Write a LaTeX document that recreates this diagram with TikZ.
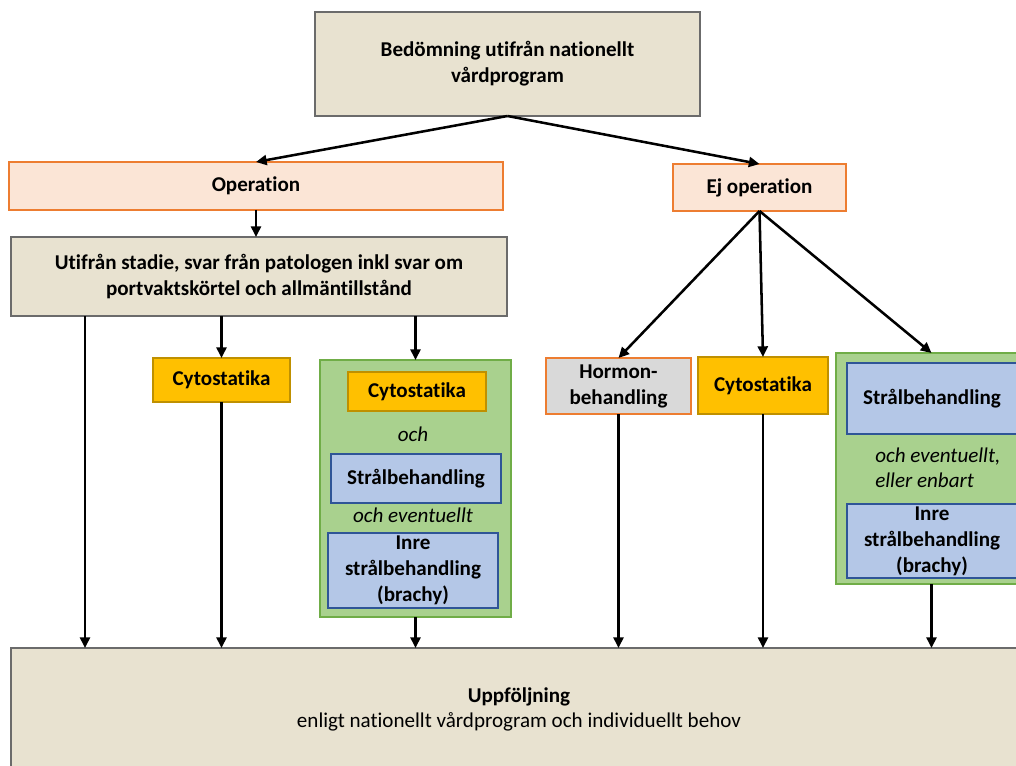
\documentclass[tikz,border=0pt]{standalone}
\usepackage{fontspec}
\setmainfont[Ligatures=NoCommon]{Carlito}
\usetikzlibrary{arrows.meta}
\definecolor{beige}{HTML}{E8E2D0}
\definecolor{grayline}{HTML}{6B6B6B}
\definecolor{orangeline}{HTML}{ED7D31}
\definecolor{peach}{HTML}{FBE5D6}
\definecolor{gold}{HTML}{FFC000}
\definecolor{goldline}{HTML}{BF9000}
\definecolor{greenfill}{HTML}{A9D18E}
\definecolor{greenline}{HTML}{70AD47}
\definecolor{bluefill}{HTML}{B4C7E7}
\definecolor{blueline}{HTML}{2F5597}
\definecolor{lgray}{HTML}{D9D9D9}
\newcommand\bx[7]{\node[#6, minimum width=#4*0.75pt, minimum height=#5*0.75pt] (#1) at (#2,#3) {#7};}
\begin{document}
\begin{tikzpicture}[x=0.75pt,y=-0.75pt,
  base/.style={draw, line width=1.5pt, outer sep=0pt, inner sep=0pt, anchor=north west, align=center,
    font=\fontsize{15.8}{19.5}\selectfont\bfseries},
  tanbox/.style={base, fill=beige, draw=grayline},
  opbox/.style={base, fill=peach, draw=orangeline},
  cytobox/.style={base, fill=gold, draw=goldline},
  grnbox/.style={base, fill=greenfill, draw=greenline},
  blubox/.style={base, fill=bluefill, draw=blueline},
  hormbox/.style={base, fill=lgray, draw=orangeline},
  itext/.style={font=\fontsize{15.8}{19}\selectfont\itshape, inner sep=0pt, align=left},
  arr/.style={line width=1.9pt, -{Triangle[length=8pt,width=7.5pt]}}]
\clip (0,0) rectangle (1016,766);
\fill[white] (0,0) rectangle (1016,766);

\bx{top}{315}{12}{385}{104}{tanbox}{Bedömning utifrån nationellt\\vårdprogram}
\bx{op}{9}{162}{494}{48}{opbox}{Operation}
\bx{ejop}{673}{164}{173}{47}{opbox}{Ej operation}
\bx{utif}{11}{237}{496}{79}{tanbox}{Utifrån stadie, svar från patologen inkl svar om\\portvaktskörtel och allmäntillstånd}
\bx{cytoA}{153}{358}{137}{44}{cytobox}{Cytostatika}
\bx{grnA}{320}{360}{191}{257}{grnbox}{}
\bx{cytoB}{348}{372}{138}{39}{cytobox}{Cytostatika}
\node[itext] (ochA) at (413,434) {och};
\bx{stralA}{331}{454}{170}{49}{blubox}{Strålbehandling}
\node[itext] (evA) at (413,515) {och eventuellt};
\bx{inreA}{328}{533}{170}{75}{blubox}{Inre\\strålbehandling\\(brachy)}
\bx{horm}{546}{358}{145}{56}{hormbox}{Hormon-\\behandling}
\bx{cytoC}{698}{357}{130}{57}{cytobox}{Cytostatika}
\bx{grnB}{836}{353}{191}{231}{grnbox}{}
\bx{stralB}{847}{363}{170}{71}{blubox}{Strålbehandling}
\node[itext, anchor=west] (evB) at (875,467.5) {och eventuellt,\\eller enbart};
\bx{inreB}{847}{504}{170}{74}{blubox}{Inre\\strålbehandling\\(brachy)}
\bx{upp}{11}{648}{1030}{140}{tanbox}{}
\node[font=\fontsize{15.8}{19}\selectfont, align=center, inner sep=0pt] (upptxt) at (519,709.5)
  {\textbf{Uppföljning}\\enligt nationellt vårdprogram och individuellt behov};

\coordinate (left) at (85,316);

\draw[arr] (top.south) -- (op.north);
\draw[arr] (top.south) -- (ejop.north);
\draw[arr] (op.south) -- (op.south |- utif.north);
\draw[arr] (left) -- (left |- upp.north);
\draw[arr] (utif.south -| cytoA.north) -- (cytoA.north);
\draw[arr] (utif.south -| grnA.north) -- (grnA.north);
\draw[arr] (cytoA.south) -- (cytoA.south |- upp.north);
\draw[arr] (grnA.south) -- (grnA.south |- upp.north);
\draw[arr] (ejop.south) -- (horm.north);
\draw[arr] (ejop.south) -- (cytoC.north);
\draw[arr] (ejop.south) -- (grnB.north);
\draw[arr] (horm.south) -- (horm.south |- upp.north);
\draw[arr] (cytoC.south) -- (cytoC.south |- upp.north);
\draw[arr] (grnB.south) -- (grnB.south |- upp.north);
\end{tikzpicture}
\end{document}
